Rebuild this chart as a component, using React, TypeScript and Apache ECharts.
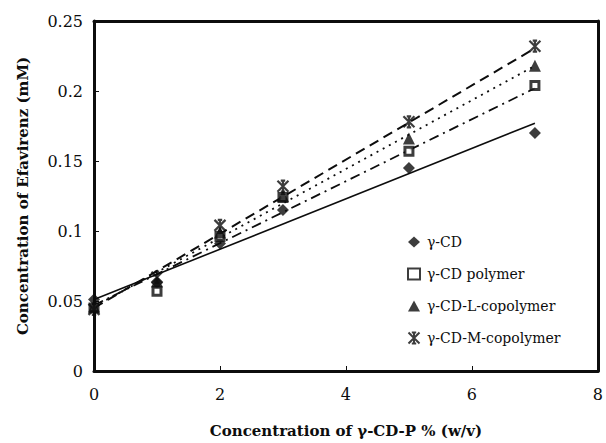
import React, { useEffect, useRef } from "react";
import * as echarts from "echarts";

const xValues = [0, 1, 2, 3, 5, 7];
const seriesNames = ["γ-CD", "γ-CD polymer", "γ-CD-L-copolymer", "γ-CD-M-copolymer"];
const gammaCD = [0.051, 0.063, 0.091, 0.115, 0.145, 0.170];
const gammaPolymer = [0.045, 0.057, 0.096, 0.124, 0.157, 0.204];
const gammaL = [0.046, 0.064, 0.099, 0.125, 0.166, 0.218];
const gammaM = [0.044, 0.067, 0.104, 0.132, 0.178, 0.232];
// trend line endpoints: [x, y] at x = 0 and x = 7
const trendCD = [[0, 0.051], [7, 0.177]];
const trendPolymer = [[0, 0.047], [7, 0.202]];
const trendL = [[0, 0.046], [7, 0.218]];
const trendM = [[0, 0.045], [7, 0.2305]];
const xTicks = ["0", "2", "4", "6", "8"];
const yTicks = ["0", "0.05", "0.1", "0.15", "0.2", "0.25"];

const INK = "#0d0d0d";
const STAR = "path://M0,0L10,10M10,0L0,10M5,0L5,10M3,0L7,0M3,10L7,10";

export default function App() {
  const ref = useRef<HTMLDivElement>(null);
  useEffect(() => {
    if (!ref.current) return;
    const chart = echarts.init(ref.current, undefined, { renderer: "svg" });
    const pts = (ys: number[]) => xValues.map((x, i) => [x, ys[i]]);
    const serif = "DejaVu Serif";
    const markerCommon = { type: "scatter" as const, z: 5 };
    const frameAxis = {
      type: "value" as const,
      axisLine: { show: true, onZero: false, lineStyle: { color: INK, width: 3 } },
      axisTick: { show: false },
      axisLabel: { show: false },
      splitLine: { show: false },
    };
    chart.setOption({
      animation: false,
      backgroundColor: "#fff",
      grid: {
        left: 94,
        right: 8,
        top: 21,
        bottom: 68,
      },
      legend: {
        orient: "vertical",
        left: 402,
        top: 229,
        itemWidth: 12,
        itemHeight: 11,
        itemGap: 16,
        data: seriesNames,
        textStyle: {
          fontFamily: serif,
          fontSize: 14,
          color: INK,
          lineHeight: 16,
          padding: [0, 0, 0, 2],
        },
      },
      xAxis: [
        {
          type: "value",
          min: 0,
          max: 8,
          interval: 2,
          name: "Concentration of γ-CD-P % (w/v)",
          nameLocation: "middle",
          nameGap: 52,
          nameTextStyle: { fontFamily: serif, fontWeight: "bold", fontSize: 15, color: INK },
          axisLine: { show: true, onZero: false, lineStyle: { color: INK, width: 3 } },
          axisTick: { show: true, inside: true, length: 5, lineStyle: { color: INK, width: 1 } },
          axisLabel: {
            fontFamily: serif,
            fontSize: 16,
            color: INK,
            margin: 15,
            formatter: (v: number) => xTicks[Math.round(v / 2)] ?? String(v),
          },
          splitLine: { show: false },
        },
        { ...frameAxis, position: "top", min: 0, max: 8 },
      ],
      yAxis: [
        {
          type: "value",
          min: 0,
          max: 0.25,
          interval: 0.05,
          name: "Concentration of Efavirenz (mM)",
          nameLocation: "middle",
          nameGap: 64,
          nameRotate: 90,
          nameTextStyle: { fontFamily: serif, fontWeight: "bold", fontSize: 15, color: INK },
          axisLine: { show: true, onZero: false, lineStyle: { color: INK, width: 3 } },
          axisTick: { show: true, inside: true, length: 5, lineStyle: { color: INK, width: 1 } },
          axisLabel: {
            fontFamily: serif,
            fontSize: 16,
            color: INK,
            margin: 11,
            formatter: (v: number) => yTicks[Math.round(v / 0.05)] ?? String(v),
          },
          splitLine: { show: false },
        },
        { ...frameAxis, position: "right", min: 0, max: 0.25 },
      ],
      series: [
        {
          type: "line",
          name: "trend-cd",
          data: trendCD,
          showSymbol: false,
          silent: true,
          lineStyle: { color: INK, width: 1.6, type: "solid" },
        },
        {
          type: "line",
          name: "trend-polymer",
          data: trendPolymer,
          showSymbol: false,
          silent: true,
          lineStyle: { color: INK, width: 1.8, type: [10, 5, 2, 5] },
        },
        {
          type: "line",
          name: "trend-l",
          data: trendL,
          showSymbol: false,
          silent: true,
          lineStyle: { color: INK, width: 1.8, type: [2, 5] },
        },
        {
          type: "line",
          name: "trend-m",
          data: trendM,
          showSymbol: false,
          silent: true,
          lineStyle: { color: INK, width: 2, type: [10, 6] },
        },
        {
          ...markerCommon,
          name: seriesNames[0],
          data: pts(gammaCD),
          symbol: "diamond",
          symbolSize: 12,
          itemStyle: { color: INK },
        },
        {
          ...markerCommon,
          name: seriesNames[1],
          data: pts(gammaPolymer),
          symbol: "rect",
          symbolSize: 8,
          itemStyle: { color: "#fff", borderColor: INK, borderWidth: 3 },
        },
        {
          ...markerCommon,
          name: seriesNames[2],
          data: pts(gammaL),
          symbol: "triangle",
          symbolSize: 12,
          itemStyle: { color: INK },
        },
        {
          ...markerCommon,
          name: seriesNames[3],
          data: pts(gammaM),
          symbol: STAR,
          symbolSize: 11,
          symbolKeepAspect: true,
          itemStyle: { color: "rgba(0,0,0,0)", borderColor: INK, borderWidth: 2.2 },
        },
      ],
    });
    return () => chart.dispose();
  }, []);
  return (
    <div
      ref={ref}
      style={{ position: "fixed", left: 0, top: 0, width: 606, height: 443 }}
    />
  );
}
